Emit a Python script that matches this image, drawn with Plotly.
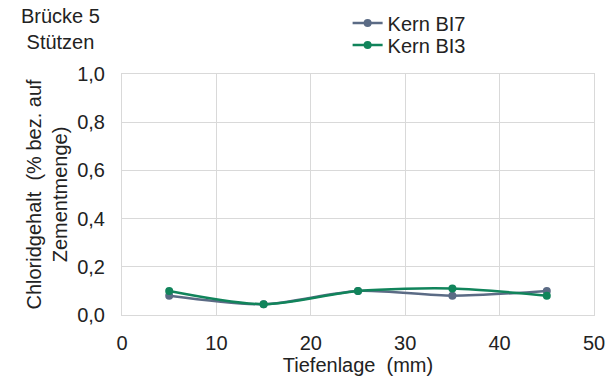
import plotly.graph_objects as go

tiefe = [5, 15, 25, 35, 45]
kern_bi7 = [0.08, 0.045, 0.10, 0.08, 0.10]
kern_bi3 = [0.10, 0.045, 0.10, 0.11, 0.08]

x_ticks = [0, 10, 20, 30, 40, 50]
y_ticks = [0.0, 0.2, 0.4, 0.6, 0.8, 1.0]
y_tick_text = ["0,0", "0,2", "0,4", "0,6", "0,8", "1,0"]

font = dict(family="Liberation Sans, Arial, sans-serif", size=20, color="#222222")

fig = go.Figure()
fig.add_trace(go.Scatter(
    x=tiefe, y=kern_bi7, name="Kern BI7", mode="lines+markers",
    line=dict(color="#5b6b85", width=2.5, shape="spline", smoothing=0.8),
    marker=dict(color="#5b6b85", size=8), legend="legend",
))
fig.add_trace(go.Scatter(
    x=tiefe, y=kern_bi3, name="Kern BI3", mode="lines+markers",
    line=dict(color="#11845b", width=2.5, shape="spline", smoothing=0.8),
    marker=dict(color="#11845b", size=8), legend="legend2",
))

legend_common = dict(xanchor="left", yanchor="middle",
                     bgcolor="rgba(0,0,0,0)", font=font)

fig.update_layout(
    width=616, height=381,
    margin=dict(l=122, r=22, t=74, b=66, autoexpand=False),
    paper_bgcolor="white", plot_bgcolor="white",
    font=font,
    showlegend=True,
    legend=dict(x=0.478, y=1.212, **legend_common),
    legend2=dict(x=0.478, y=1.12, **legend_common),
    annotations=[dict(
        text="Brücke 5<br>Stützen", xref="paper", yref="paper",
        x=-0.131, y=1.295, xanchor="center", yanchor="top",
        showarrow=False, font=font, align="center",
    )],
)

fig.update_xaxes(
    range=[0, 50], tickvals=x_ticks, ticks="", showline=True,
    linecolor="#d9d9d9", mirror=True, gridcolor="#d9d9d9", gridwidth=1,
    zeroline=False, ticklabelstandoff=10,
    title=dict(text="Tiefenlage  (mm)", font=font, standoff=4),
    tickfont=font,
)
fig.update_yaxes(
    range=[0, 1.0], tickvals=y_ticks, ticktext=y_tick_text, ticks="",
    showline=True, linecolor="#d9d9d9", mirror=True, gridcolor="#d9d9d9",
    gridwidth=1, zeroline=False, tickfont=font, ticklabelstandoff=12,
    title=dict(text="Chloridgehalt  (% bez. auf<br>Zementmenge)", font=font, standoff=4),
)

fig.write_html("out.html")
